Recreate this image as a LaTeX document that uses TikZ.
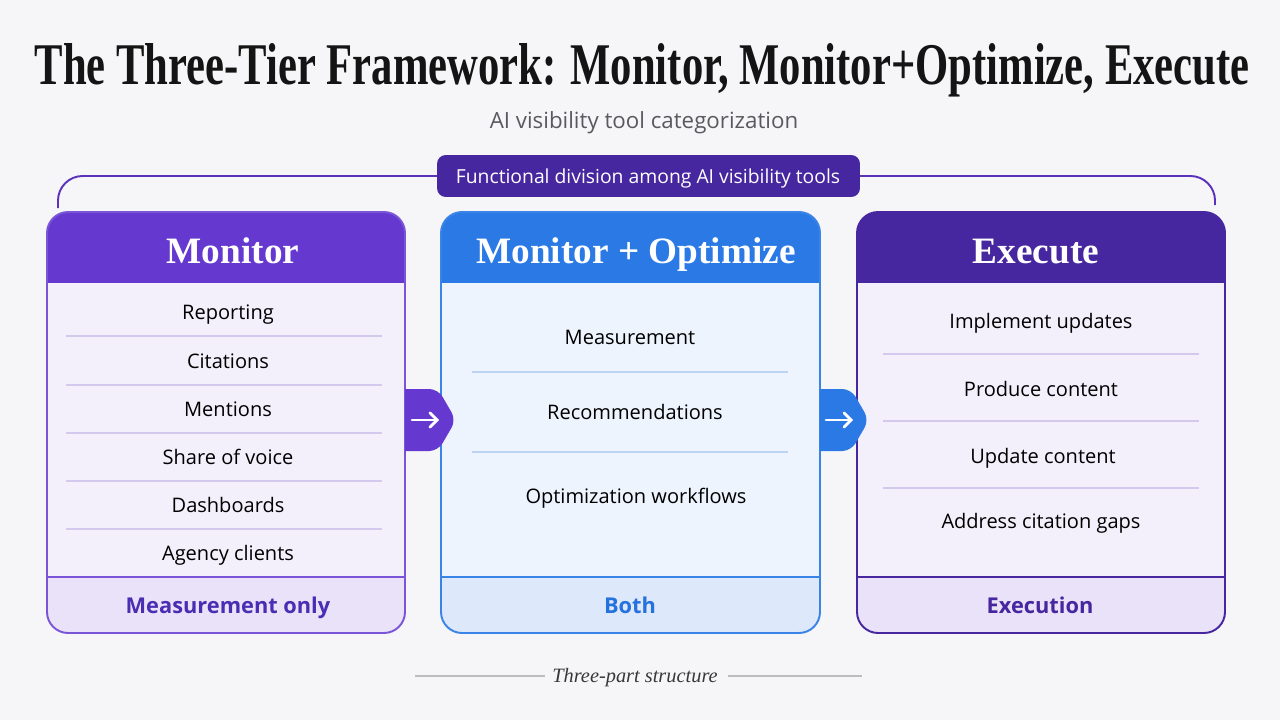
\documentclass[tikz,border=0pt]{standalone}
\usepackage{graphicx}
\usepackage{fontspec}
\setmainfont{Liberation Serif}
\setsansfont{Open Sans}
\usetikzlibrary{arrows.meta}
\definecolor{bg}{HTML}{F6F6F8}
\definecolor{purpA}{HTML}{6539CF}
\definecolor{purpB}{HTML}{46279F}
\definecolor{blueA}{HTML}{2B79E4}
\definecolor{purpBorder}{HTML}{7A55D7}
\definecolor{blueBorder}{HTML}{3A84E8}
\definecolor{lavBody}{HTML}{F3F0FB}
\definecolor{lavFoot}{HTML}{E9E2F8}
\definecolor{blueBody}{HTML}{EEF4FD}
\definecolor{blueFoot}{HTML}{DDE9FA}
\definecolor{lavLine}{HTML}{D2C9EC}
\definecolor{blueLine}{HTML}{BCD3F5}
\definecolor{purpText}{HTML}{4A2DB3}
\definecolor{blueText}{HTML}{2571DD}
\definecolor{graySub}{HTML}{5A5A5E}
\definecolor{grayLine}{HTML}{BDBDBD}
\tikzset{
  headtxt/.style={anchor=base, text=white, inner sep=0pt, font=\fontsize{21.2pt}{25pt}\selectfont\bfseries},
  itemtxt/.style={anchor=base, text=black, inner sep=0pt, font=\sffamily\fontsize{11.4pt}{13pt}\selectfont},
  foottxt/.style={anchor=base, inner sep=0pt, font=\sffamily\bfseries\fontsize{12.4pt}{14pt}\selectfont},
  divline/.style={line width=0.6pt},
  chev/.style={rounded corners=5},
  chevarrow/.style={draw=white, line width=1.6pt, line cap=round, -{Straight Barb[length=4pt,width=8pt,line cap=round]}},
}
\begin{document}
\begin{tikzpicture}[x=0.02cm,y=-0.02cm]
\fill[bg] (0,0) rectangle (1280,720);
\useasboundingbox (0,0) rectangle (1280,720);

% title
\node[anchor=base, inner sep=0pt, text=black!92] (title) at (642,84)
  {\resizebox{24.3cm}{0.82cm}{\bfseries The Three-Tier Framework: Monitor, Monitor+Optimize, Execute}};
\node[anchor=base, inner sep=0pt, text=graySub, font=\sffamily\fontsize{12.7pt}{14pt}\selectfont] (subtitle) at (644,128) {AI visibility tool categorization};

% bracket
\draw[purpA!90!black, line width=1.1pt, rounded corners=14] (58,208) -- (58,176) -- (1215,176) -- (1215,205);
\node[fill=purpB, rounded corners=5, minimum width=8.46cm, minimum height=0.84cm, inner sep=0pt] (label) at (648.5,176) {};
\node[anchor=base, inner sep=0pt, text=white, font=\sffamily\fontsize{11pt}{13pt}\selectfont] (labeltxt) at (648,183) {Functional division among AI visibility tools};

% card 1
\begin{scope}
\clip[rounded corners=12] (47,212) rectangle (405,633);
\fill[lavBody] (47,212) rectangle (405,633);
\fill[purpA] (47,212) rectangle (405,283);
\fill[lavFoot] (47,577) rectangle (405,633);
\end{scope}
\draw[purpBorder, line width=1.1pt, rounded corners=12] (47,212) rectangle (405,633);
\draw[purpBorder, line width=1pt] (47,577) -- (405,577);
\foreach \yy in {336,385,433,481,529} \draw[lavLine, divline] (66,\yy) -- (382,\yy);
\node[headtxt] (h1) at (233,263) {Monitor};
\node[itemtxt] (i11) at (228,319) {Reporting};
\node[itemtxt] (i12) at (228,368) {Citations};
\node[itemtxt] (i13) at (228,416) {Mentions};
\node[itemtxt] (i14) at (228,464) {Share of voice};
\node[itemtxt] (i15) at (228,512) {Dashboards};
\node[itemtxt] (i16) at (228,560) {Agency clients};
\node[foottxt, text=purpText] (f1) at (228,613) {Measurement only};

% card 2
\begin{scope}
\clip[rounded corners=12] (441,212) rectangle (820,633);
\fill[blueBody] (441,212) rectangle (820,633);
\fill[blueA] (441,212) rectangle (820,283);
\fill[blueFoot] (441,577) rectangle (820,633);
\end{scope}
\draw[blueBorder, line width=1.1pt, rounded corners=12] (441,212) rectangle (820,633);
\draw[blueBorder, line width=1pt] (441,577) -- (820,577);
\foreach \yy in {372,452} \draw[blueLine, divline] (472,\yy) -- (788,\yy);
\node[headtxt] (h2) at (636,263) {Monitor + Optimize};
\node[itemtxt] (i21) at (630,344) {Measurement};
\node[itemtxt] (i22) at (635,419) {Recommendations};
\node[itemtxt] (i23) at (636,503) {Optimization workflows};
\node[foottxt, text=blueText] (f2) at (630,613) {Both};

% card 3
\begin{scope}
\clip[rounded corners=12] (857,212) rectangle (1225,633);
\fill[lavBody] (857,212) rectangle (1225,633);
\fill[purpB] (857,212) rectangle (1225,283);
\fill[lavFoot] (857,577) rectangle (1225,633);
\end{scope}
\draw[purpB, line width=1.1pt, rounded corners=12] (857,212) rectangle (1225,633);
\draw[purpB, line width=1pt] (857,577) -- (1225,577);
\foreach \yy in {354,421,488} \draw[lavLine, divline] (883,\yy) -- (1199,\yy);
\node[headtxt] (h3) at (1036,263) {Execute};
\node[itemtxt] (i31) at (1041,328) {Implement updates};
\node[itemtxt] (i32) at (1041,396) {Produce content};
\node[itemtxt] (i33) at (1043,463) {Update content};
\node[itemtxt] (i34) at (1041,528) {Address citation gaps};
\node[foottxt, text=purpB] (f3) at (1040,613) {Execution};

% chevrons
\fill[purpA] (405,389) [chev]-- (438,389) -- (456,420) -- (438,451) [sharp corners]-- (405,451) -- cycle;
\coordinate (a1s) at (412,420);
\coordinate (a1e) at (439,420);
\draw[chevarrow] (a1s) -- (a1e);
\fill[blueA] (820,389) [chev]-- (851,389) -- (869,420) -- (851,451) [sharp corners]-- (820,451) -- cycle;
\coordinate (a2s) at (826,420);
\coordinate (a2e) at (853,420);
\draw[chevarrow] (a2s) -- (a2e);

% footer
\node[anchor=base, inner sep=0pt, text=black!78, font=\itshape\fontsize{11.6pt}{13pt}\selectfont] (foot) at (635,682) {Three-part structure};
\coordinate (flA) at (415,676);
\coordinate (flB) at (545,676);
\coordinate (frA) at (728,676);
\coordinate (frB) at (862,676);
\draw[grayLine, line width=0.8pt] (flA) -- (flB);
\draw[grayLine, line width=0.8pt] (frA) -- (frB);
\end{tikzpicture}
\end{document}
